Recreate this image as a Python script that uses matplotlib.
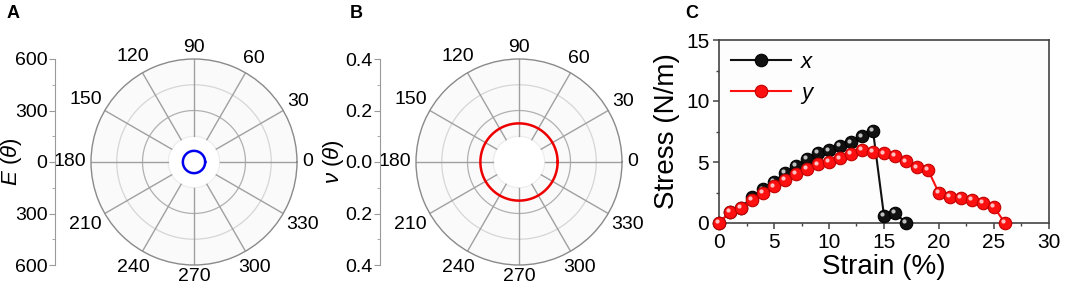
import numpy as np
import matplotlib
matplotlib.use("Agg")
import matplotlib.pyplot as plt
from matplotlib.transforms import offset_copy, ScaledTranslation

plt.rcParams['font.family'] = ['Liberation Sans', 'DejaVu Sans']
plt.rcParams['mathtext.fontset'] = 'custom'
plt.rcParams['mathtext.rm'] = 'Liberation Sans'
plt.rcParams['mathtext.it'] = 'Liberation Sans:italic'

# polar data (constant in-plane values)
angle_ticks = [0, 30, 60, 90, 120, 150, 180, 210, 240, 270, 300, 330]
E_value = 65        # Young's modulus E(theta)
nu_value = 0.15     # Poisson ratio nu(theta)
E_ticks = ['600', '300', '0', '300', '600']
nu_ticks = ['0.4', '0.2', '0.0', '0.2', '0.4']

# stress-strain data
strain_x = [0, 1, 2, 3, 4, 5, 6, 7, 8, 9, 10, 11, 12, 13, 14, 15, 16, 17]
stress_x = [0, 0.9, 1.25, 2.1, 2.75, 3.4, 4.1, 4.7, 5.25, 5.75, 5.95, 6.35, 6.6, 7.1, 7.55, 0.6, 0.85, 0]
strain_y = list(range(27))
stress_y = [0, 0.92, 1.25, 1.9, 2.5, 3.0, 3.5, 4.0, 4.45, 4.8, 5.0, 5.3, 5.65, 5.98, 5.85,
            5.7, 5.5, 5.05, 4.55, 4.35, 2.45, 2.15, 2.05, 1.9, 1.65, 1.3, 0]

W, H = 1065, 289
fig = plt.figure(figsize=(W / 100, H / 100), dpi=100)


def px(l, t, w, h):
    return [l / W, 1 - (t + h) / H, w / W, h / H]


def polar_panel(cx, axis_x, rmax, value, color, ticklabels, label, label_x):
    R = 103
    ax = fig.add_axes(px(cx - R, 162 - R, 2 * R, 2 * R), projection='polar')
    ax.set_ylim(0, rmax)
    ax.set_facecolor('#fafafa')
    ax.grid(False)
    ax.set_xticks([])
    ax.set_yticks([])
    ax.spines['polar'].set_color('#8a8a8a')
    ax.spines['polar'].set_linewidth(1.0)
    th = np.linspace(0, 2 * np.pi, 361)
    ax.fill_between(th, 0, rmax / 4, color='white', zorder=0.5)
    for frac, c in [(0.25, '#ececec'), (0.5, '#b0b0b0'), (0.75, '#d6d6d6')]:
        ax.plot(th, np.full_like(th, rmax * frac), color=c, lw=0.9, zorder=1)
    for a in angle_ticks:
        t = np.deg2rad(a)
        ax.plot([t, t], [rmax / 4, rmax], color='#a0a0a0', lw=1.0, zorder=1)
        c, s = np.cos(t), np.sin(t)
        w = 7.8 * len(str(a))
        h = 10
        d = 3.5 + abs(c) * w / 2 + abs(s) * h / 2
        tr = ax.transData + ScaledTranslation(d * c / 72, d * s / 72, fig.dpi_scale_trans)
        ax.text(t, rmax, str(a), transform=tr, ha='center', va='center',
                fontsize=14, clip_on=False)
    ax.plot(th, np.full_like(th, value), color=color, lw=1.8, zorder=3)

    la = fig.add_axes(px(axis_x, 59, 1, 206))
    la.set_ylim(-rmax, rmax)
    la.set_xticks([])
    for sp in ['top', 'right', 'bottom']:
        la.spines[sp].set_visible(False)
    la.spines['left'].set_color('#9a9a9a')
    la.patch.set_visible(False)
    la.set_yticks(np.linspace(rmax, -rmax, 5))
    la.set_yticklabels(ticklabels, fontsize=14)
    la.set_yticks(np.linspace(rmax, -rmax, 9), minor=True)
    la.tick_params(axis='y', which='major', length=4, color='#9a9a9a', pad=1.5)
    la.tick_params(axis='y', which='minor', length=2, color='#9a9a9a')
    fig.text(label_x / W, 1 - 162 / H, label, rotation=90, ha='center', va='center',
             fontsize=16)


polar_panel(194, 55, 600, E_value, '#0000ee', E_ticks, r'$E$ ($\theta$)', 12)
polar_panel(519, 380, 0.4, nu_value, '#ee0000', nu_ticks, r'$\nu$ ($\theta$)', 334)

# panel C
ax = fig.add_axes(px(719, 40, 330, 183))
ax.set_facecolor('#fdfdfd')


def balls(x, y, face, edge, label, z):
    ax.plot(x, y, '-o', color=face, mec=edge, mfc=face, ms=9, mew=0.8, lw=1.5,
            label=label, zorder=z, clip_on=False)
    tr = offset_copy(ax.transData, fig=fig, x=-1.3, y=1.3, units='points')
    ax.plot(x, y, 'o', color='white', ms=3, alpha=0.75, mew=0, transform=tr,
            zorder=z + 0.1, clip_on=False)


balls(strain_x, stress_x, '#111111', 'black', '$x$', 3)
balls(strain_y, stress_y, '#ff1010', '#c00000', '$y$', 4)

ax.set_xlim(0, 30)
ax.set_ylim(0, 15)
ax.set_xticks([0, 5, 10, 15, 20, 25, 30])
ax.set_yticks([0, 5, 10, 15])
ax.set_xticks(np.arange(0, 30.1, 2.5), minor=True)
ax.set_yticks(np.arange(0, 15.1, 2.5), minor=True)
ax.tick_params(which='major', direction='out', length=4, width=1.1, labelsize=15, pad=3,
               color='#444444')
ax.tick_params(which='minor', direction='out', length=2.5, width=1.0, color='#444444')
for sp in ax.spines.values():
    sp.set_color('#444444')
    sp.set_linewidth(1.2)
ax.set_xlabel('Strain (%)', fontsize=20, labelpad=2)
ax.set_ylabel('Stress (N/m)', fontsize=20, labelpad=4)
leg = ax.legend(loc='upper left', frameon=False, fontsize=16, handlelength=2.7,
                borderaxespad=0.15, handletextpad=0.4, labelspacing=0.45)

fig.text(7 / W, 1 - 13 / H, 'A', fontsize=13, fontweight='bold', va='center')
fig.text(350 / W, 1 - 13 / H, 'B', fontsize=13, fontweight='bold', va='center')
fig.text(685 / W, 1 - 13 / H, 'C', fontsize=13, fontweight='bold', va='center')

fig.savefig('out.png', dpi=100)
